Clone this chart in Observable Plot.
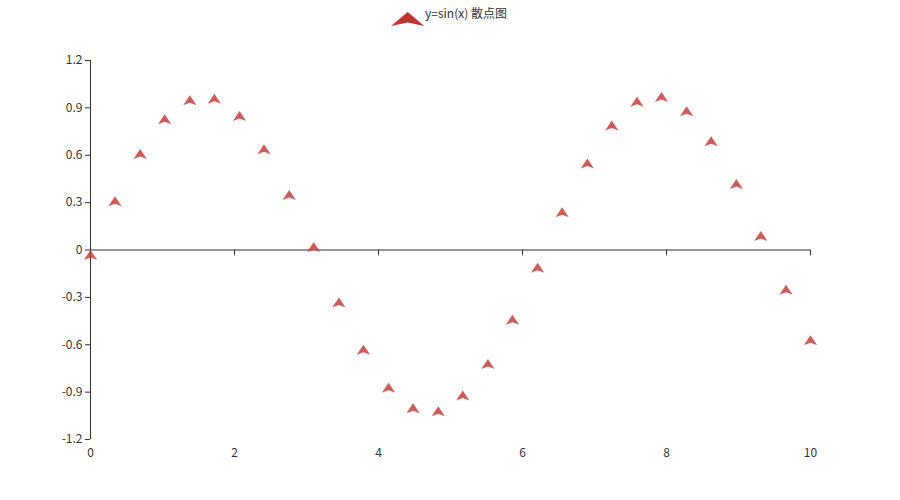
<!DOCTYPE html>
<html><head><meta charset="utf-8">
<script src="https://cdn.jsdelivr.net/npm/d3@7"></script>
<script src="https://cdn.jsdelivr.net/npm/@observablehq/plot@0.6"></script>
<style>
body{margin:0;background:#fff;font-family:"Noto Sans CJK SC","Microsoft YaHei",sans-serif;}
#legend{position:relative;height:30px;width:900px;}
#legend svg{position:absolute;left:391px;top:12px;}
#legend span{position:absolute;left:425px;top:4px;font-size:12px;line-height:17px;color:#333;white-space:nowrap;}
</style></head><body>
<div id="legend"></div>
<div id="chart"></div>
<script>
const seriesName = "y=sin(x) 散点图";
const seriesColor = "#c23531";
const xValues = [0, 0.34, 0.69, 1.03, 1.38, 1.72, 2.07, 2.41, 2.76, 3.10,
  3.45, 3.79, 4.14, 4.48, 4.83, 5.17, 5.52, 5.86, 6.21, 6.55,
  6.90, 7.24, 7.59, 7.93, 8.28, 8.62, 8.97, 9.31, 9.66, 10];
const yValues = [0, 0.34, 0.64, 0.86, 0.98, 0.99, 0.88, 0.67, 0.38, 0.05,
  -0.30, -0.60, -0.84, -0.97, -0.99, -0.89, -0.69, -0.41, -0.08, 0.27,
  0.58, 0.82, 0.97, 1.00, 0.91, 0.72, 0.45, 0.12, -0.22, -0.54];
const xTicks = [0, 2, 4, 6, 8, 10];
const yTicks = [-1.2, -0.9, -0.6, -0.3, 0, 0.3, 0.6, 0.9, 1.2];

const data = xValues.map((x, i) => ({x, y: yValues[i]}));

// ECharts-style arrow symbol: tip at the data point, body below it
const arrow = {
  draw(ctx, size) {
    const s = Math.sqrt(size / Math.PI);
    const h = 2 * s, dx = h * 2 / 3;
    ctx.moveTo(0, 0);
    ctx.lineTo(dx, h);
    ctx.lineTo(0, h * 0.75);
    ctx.lineTo(-dx, h);
    ctx.closePath();
  }
};
const tickShape = {
  draw(ctx, l) { ctx.moveTo(0, 0); ctx.lineTo(0, -l); }
};

// legend
const legend = d3.select("#legend");
const icon = legend.append("svg").attr("width", 34).attr("height", 15);
icon.append("path")
  .attr("d", "M16.67,0 L33.33,14 L16.67,10.5 L0,14 Z")
  .attr("fill", seriesColor);
legend.append("span").text(seriesName);

const chart = Plot.plot({
  width: 900,
  height: 470,
  marginTop: 30,
  marginBottom: 61,
  marginLeft: 90,
  marginRight: 90,
  style: {fontFamily: "'Noto Sans CJK SC','Microsoft YaHei',sans-serif", fontSize: "12px", background: "#fff", color: "#333"},
  x: {domain: [0, 10], label: null},
  y: {domain: [-1.2, 1.2], label: null},
  marks: [
    Plot.axisY(yTicks, {tickSize: 5, tickPadding: 3, tickFormat: d => String(d), color: "#333", label: null}),
    Plot.ruleX([0], {stroke: "#333"}),
    Plot.axisX(xTicks, {anchor: "bottom", tickSize: 0, tickPadding: 9, tickFormat: d => String(d), color: "#333", label: null}),
    Plot.ruleY([0], {stroke: "#333"}),
    Plot.vector(xTicks, {x: d => d, y: 0, length: 5, rotate: 180, anchor: "start", shape: tickShape, stroke: "#333", strokeWidth: 1}),
    Plot.dot(data, {x: "x", y: "y", r: 5, symbol: arrow, fill: seriesColor, fillOpacity: 0.8, stroke: null})
  ]
});
document.getElementById("chart").appendChild(chart);
</script>
</body></html>
